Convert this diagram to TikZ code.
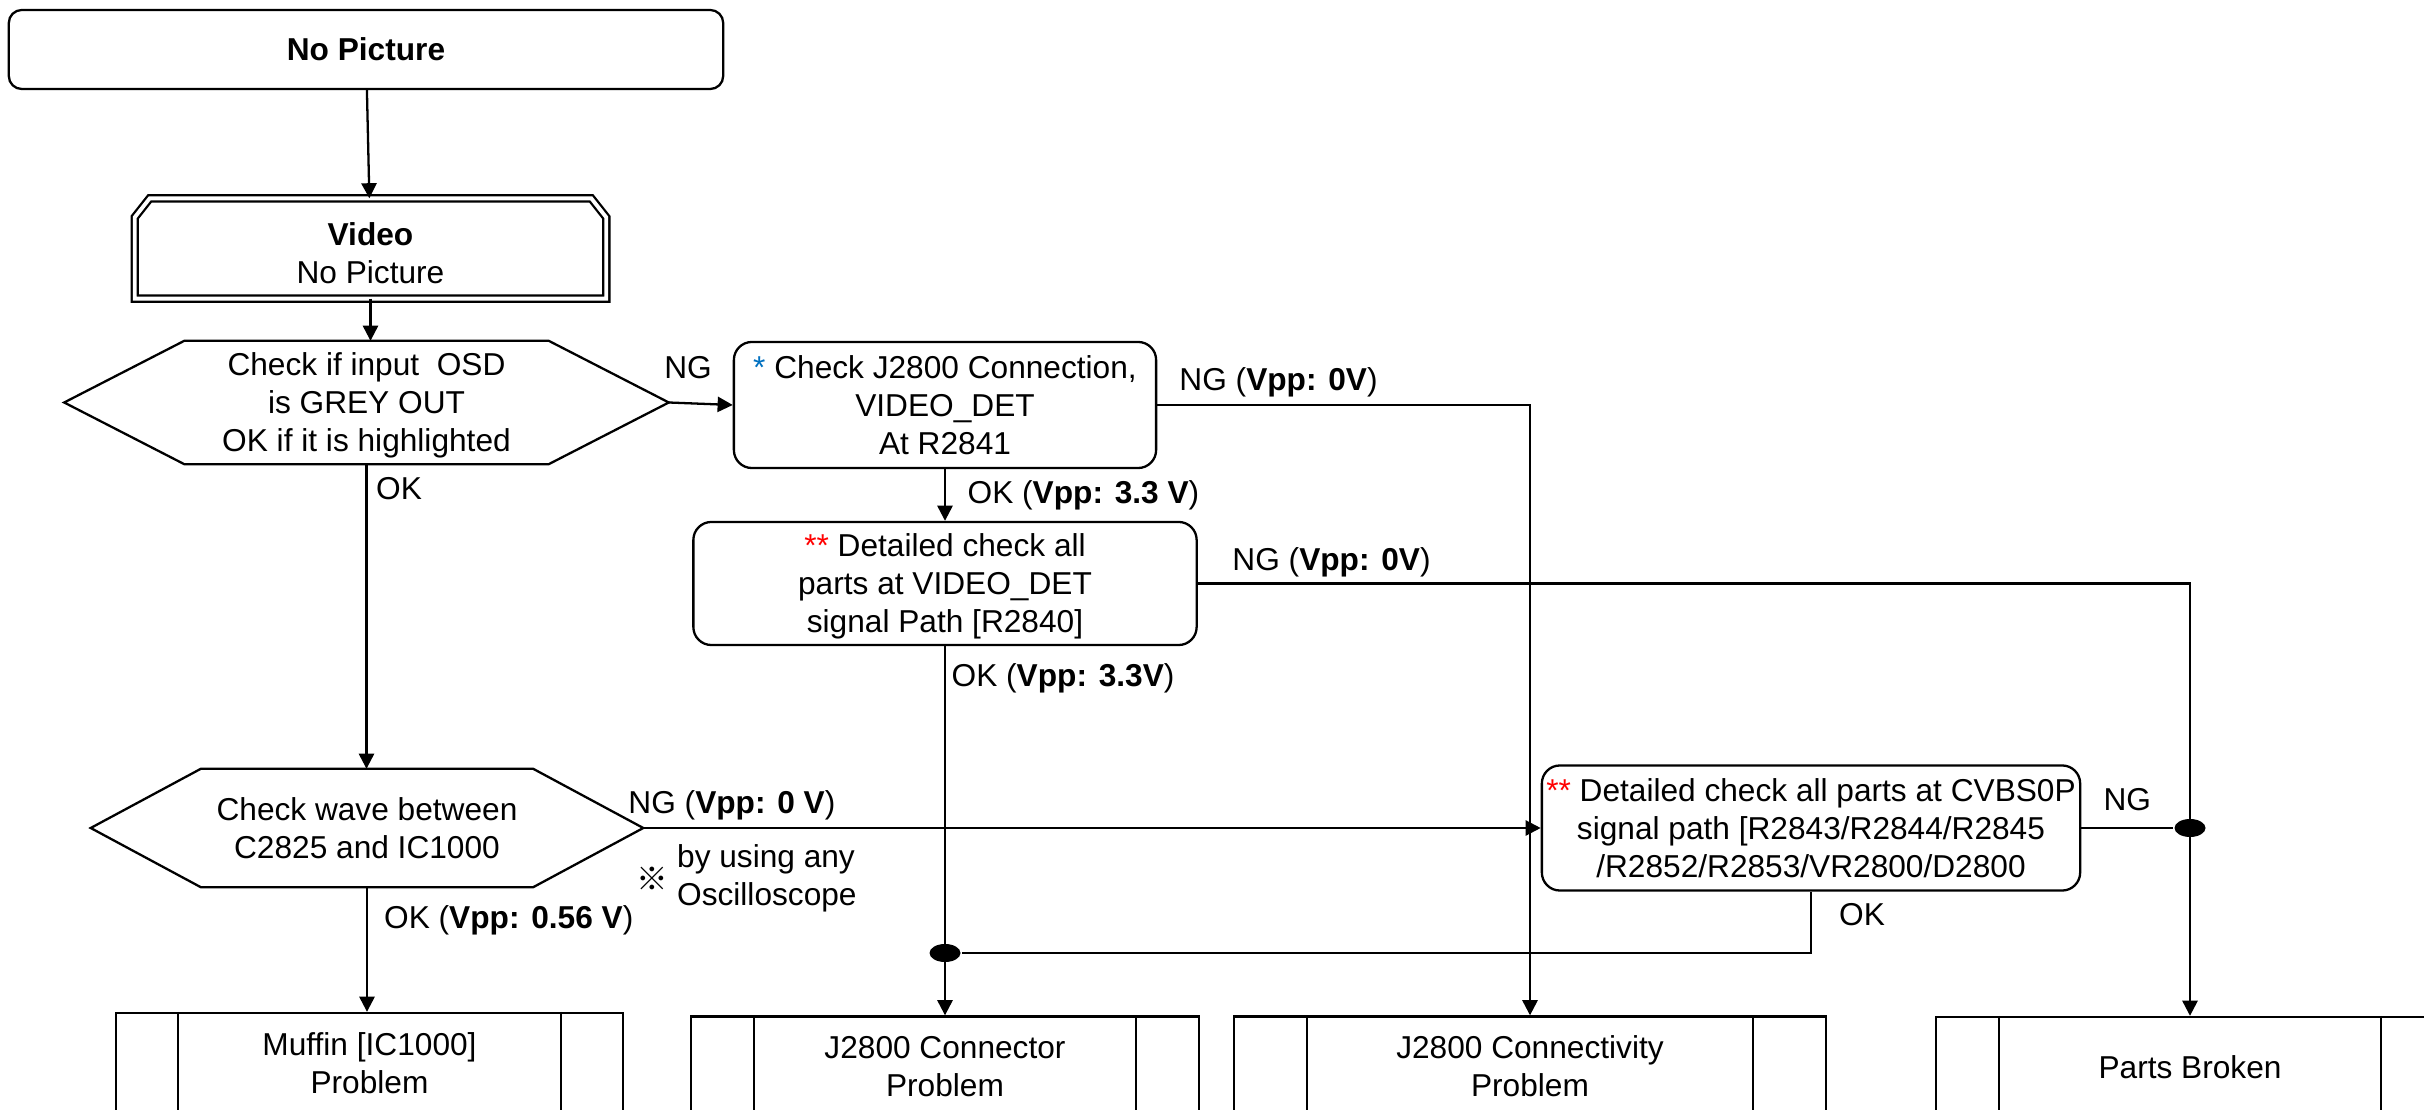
\documentclass[tikz,border=0pt]{standalone}
\usepackage{fontspec}
\setmainfont{Liberation Sans}
\newfontfamily\cjk{Noto Sans CJK JP}
\usepackage{xcolor}
\usetikzlibrary{arrows.meta,positioning,shapes.geometric}
\definecolor{starblue}{RGB}{0,112,192}
\newcommand{\hexdraw}[2]{\draw (#1.west) -- ([xshift=#2]#1.north west)
  -- ([xshift=-#2]#1.north east) -- (#1.east) -- ([xshift=-#2]#1.south east)
  -- ([xshift=#2]#1.south west) -- cycle;}

\begin{document}
\begin{tikzpicture}[
  x=0.01cm, y=-0.01cm,
  font=\fontsize{9}{10.8}\selectfont,
  line width=0.65pt,
  box/.style={draw, rounded corners=1.8mm, align=center, inner sep=2pt},
  hexa/.style={align=center, inner sep=0pt},
  endbox/.style={draw, align=center, inner sep=0pt, minimum height=10mm},
  dot/.style={ellipse, fill, inner sep=0pt, minimum width=3.1mm, minimum height=1.8mm},
  arr/.style={-{Triangle[length=4.3pt, width=4.3pt]}},
  lab/.style={inner sep=1pt}
]
\useasboundingbox (0,0) rectangle (2424,1110);
\clip (0,0) rectangle (2424,1110);
% start and video
\node[box, rounded corners=1.3mm, minimum width=71.4mm, minimum height=7.9mm]
  (start) at (366,49.5) {\textbf{No Picture}};
\node[hexa, minimum width=46.9mm, minimum height=9.8mm, text height=20.1pt,
  text depth=0pt] (video) at (370.5,248.5) {\textbf{Video}\\No Picture};
\draw[double, double distance=1.1pt] (video.south west)
  -- ([yshift=-1.9mm]video.north west) -- ([xshift=1.5mm]video.north west)
  -- ([xshift=-1.5mm]video.north east) -- ([yshift=-1.9mm]video.north east)
  -- (video.south east) -- cycle;
% decisions
\node[hexa, minimum width=60.2mm, minimum height=12.1mm, text depth=-0.08em]
  (osd) at (366.5,402.5) {Check if input~ OSD\\is GREY OUT\\OK if it is highlighted};
\hexdraw{osd}{12mm}
\node[hexa, minimum width=55mm, minimum height=11.6mm] (wave) at (367,828)
  {Check wave between\\C2825 and IC1000};
\hexdraw{wave}{11mm}
% checks
\node[box, minimum width=42.2mm, minimum height=12.6mm] (conn) at (945,405)
  {\textcolor{starblue}{*} Check J2800 Connection,\\VIDEO\_DET\\At R2841};
\node[box, minimum width=50.3mm, minimum height=12.3mm, text depth=0pt] (det)
  at (945,583.5)
  {\textcolor{red}{**} Detailed check all\\parts at VIDEO\_DET\\signal Path [R2840]};
\node[box, inner sep=1pt, minimum width=53.8mm, minimum height=12.5mm] (cvbs)
  at (1811,828) {\textcolor{red}{**} Detailed check all parts at CVBS0P\\
  signal path [R2843/R2844/R2845\\/R2852/R2853/VR2800/D2800};
% results
\node[endbox, minimum width=50.7mm] (muf) at (369.5,1063) {Muffin [IC1000]\\Problem};
\node[endbox, minimum width=50.8mm] (cnr) at (945,1066.5) {J2800 Connector\\Problem};
\node[endbox, minimum width=59.2mm] (cty) at (1530,1066.5) {J2800 Connectivity\\Problem};
\node[endbox, minimum width=50.8mm] (parts) at (2190,1067) {Parts Broken};
\foreach \b/\d in {muf/6.3mm, cnr/6.4mm, cty/7.4mm, parts/6.4mm}
  \draw ([xshift=\d]\b.north west) -- ([xshift=\d]\b.south west)
        ([xshift=-\d]\b.north east) -- ([xshift=-\d]\b.south east);
% note
\node[lab, align=left, anchor=west] (note) at (672.5,878.5) {by using any\\Oscilloscope};
\node[lab, left=0pt of note] (mark) {\cjk ※};
% junctions
\node[dot] (ngdot) at (parts.north |- cvbs.east) {};
\node[dot] (okdot) at (945,953) {};
% arrows
\draw[arr] (start) -- (video);
\draw[arr] (video.south) -- (video.south |- osd.north);
\draw[arr] (osd.east) -- node[lab, pos=0.3, above=2mm] {NG} (conn.west);
\draw[arr] (conn.east) -| node[lab, pos=0, anchor=south west, xshift=1.75mm, yshift=0.3mm]
  {NG (\textbf{Vpp: 0V})} (cty.north);
\draw[arr] (conn) -- node[lab, right=1.8mm] {OK (\textbf{Vpp: 3.3 V})} (det);
\draw[arr] (det.east) -| node[lab, pos=0, anchor=south west, xshift=3mm, yshift=0.2mm]
  {NG (\textbf{Vpp: 0V})} (parts.north);
\draw[arr] (det) -- node[lab, pos=0, anchor=north west, xshift=0.2mm, yshift=-1.3mm]
  {OK (\textbf{Vpp: 3.3V})} (cnr);
\draw[arr] (osd.south) -- node[lab, pos=0, anchor=north west, xshift=0.5mm, yshift=-0.9mm]
  {OK} (osd.south |- wave.north);
\draw[arr] (wave.east) -- node[lab, pos=0, anchor=south west, xshift=-1.95mm, yshift=0.3mm]
  {NG (\textbf{Vpp: 0 V})} (cvbs.west);
\draw[arr] (wave.south) -- node[lab, pos=0, anchor=north west, xshift=1.25mm, yshift=-1.35mm]
  {OK (\textbf{Vpp: 0.56 V})} (wave.south |- muf.north);
\draw (cvbs.east) -- node[lab, above=1.3mm] {NG} (ngdot);
\draw (cvbs.south) |- node[lab, pos=0, anchor=north west, xshift=2.35mm, yshift=-0.7mm]
  {OK} (okdot);
\end{tikzpicture}
\end{document}
